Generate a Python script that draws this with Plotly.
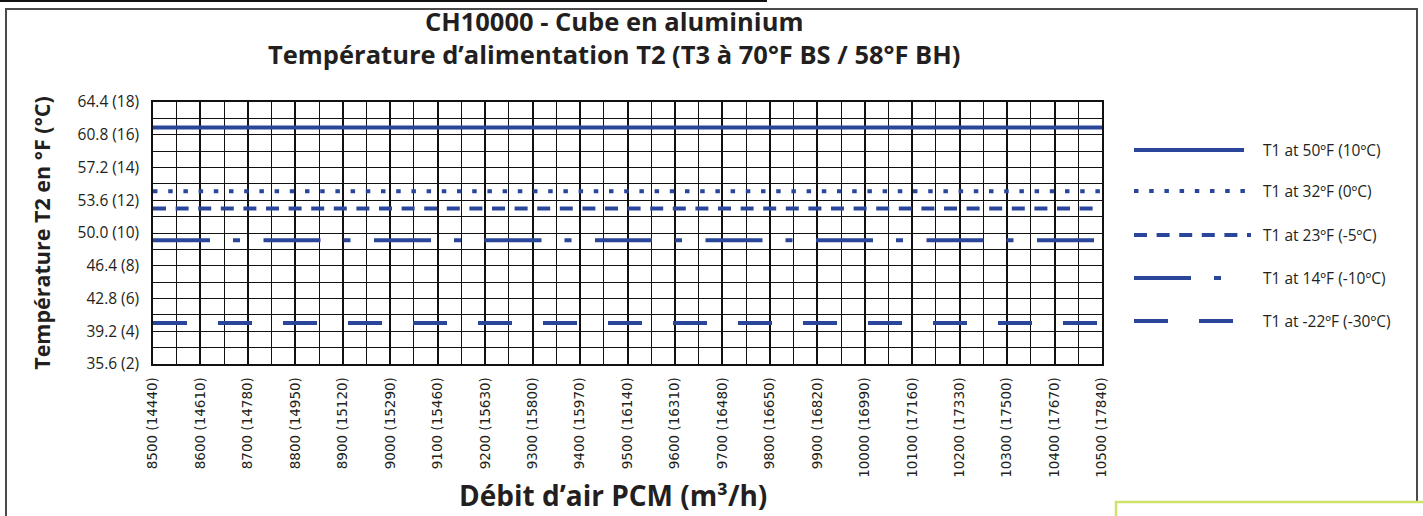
import plotly.graph_objects as go

# ---------------- data ----------------
airflow_cfm = [8500, 8600, 8700, 8800, 8900, 9000, 9100, 9200, 9300, 9400, 9500,
               9600, 9700, 9800, 9900, 10000, 10100, 10200, 10300, 10400, 10500]
airflow_m3h = [14440, 14610, 14780, 14950, 15120, 15290, 15460, 15630, 15800, 15970, 16140,
               16310, 16480, 16650, 16820, 16990, 17160, 17330, 17500, 17670, 17840]
x_tick_labels = [f"{c} ({m})" for c, m in zip(airflow_cfm, airflow_m3h)]

y_tick_f = [35.6, 39.2, 42.8, 46.4, 50.0, 53.6, 57.2, 60.8, 64.4]
y_tick_c = [2, 4, 6, 8, 10, 12, 14, 16, 18]
y_tick_labels = [f"{f:.1f} ({c})" for f, c in zip(y_tick_f, y_tick_c)]

series_names = ["T1 at 50ºF (10ºC)", "T1 at 32ºF (0ºC)", "T1 at 23ºF (-5ºC)",
                "T1 at 14ºF (-10ºC)", "T1 at -22ºF (-30ºC)"]
t2_t1_50 = [61.6, 61.6, 61.6, 61.6, 61.6, 61.6, 61.6, 61.6, 61.6, 61.6, 61.6,
            61.6, 61.6, 61.6, 61.6, 61.6, 61.6, 61.6, 61.6, 61.6, 61.6]
t2_t1_32 = [54.6, 54.6, 54.6, 54.6, 54.6, 54.6, 54.6, 54.6, 54.6, 54.6, 54.6,
            54.6, 54.6, 54.6, 54.6, 54.6, 54.6, 54.6, 54.6, 54.6, 54.6]
t2_t1_23 = [52.7, 52.7, 52.7, 52.7, 52.7, 52.7, 52.7, 52.7, 52.7, 52.7, 52.7,
            52.7, 52.7, 52.7, 52.7, 52.7, 52.7, 52.7, 52.7, 52.7, 52.7]
t2_t1_14 = [49.2, 49.2, 49.2, 49.2, 49.2, 49.2, 49.2, 49.2, 49.2, 49.2, 49.2,
            49.2, 49.2, 49.2, 49.2, 49.2, 49.2, 49.2, 49.2, 49.2, 49.2]
t2_t1_m22 = [40.1, 40.1, 40.1, 40.1, 40.1, 40.1, 40.1, 40.1, 40.1, 40.1, 40.1,
             40.1, 40.1, 40.1, 40.1, 40.1, 40.1, 40.1, 40.1, 40.1, 40.1]
series_values = [t2_t1_50, t2_t1_32, t2_t1_23, t2_t1_14, t2_t1_m22]

title_text = ("CH10000 - Cube en aluminium<br>"
              "Température d’alimentation T2 (T3 à 70°F BS / 58°F BH)")
x_title = "Débit d’air PCM (m³/h)"
y_title = "Température T2 en °F (°C)"

# ---------------- style ----------------
BLUE = "#2a469b"
TXT = "#231f20"
GRID = "#111111"
dashes = ["solid", "4.5px,10.7px", "13px,9.6px", "57px,23px,7px,23.5px", "34px,31px"]
legend_len = [110, 113, 117, 89, 103]
legend_y = [150, 191, 235, 278, 321]

W, H = 1423, 516
L, R, T, B = 153, 1102, 102, 364


def px(x):
    return (x - L) / (R - L)


def py(y):
    return (B - y) / (B - T)


fig = go.Figure()
for name, vals, d in zip(series_names, series_values, dashes):
    fig.add_trace(go.Scatter(x=airflow_cfm, y=vals, mode="lines", name=name,
                             line=dict(color=BLUE, width=4, dash=d),
                             showlegend=False, hoverinfo="x+y+name"))

shapes = []
annotations = []
# page frame
shapes.append(dict(type="line", xref="paper", yref="paper", x0=px(0), x1=px(767),
                   y0=py(1), y1=py(1), line=dict(color="#111", width=2)))
shapes.append(dict(type="rect", xref="paper", yref="paper", x0=px(6), x1=px(1417),
                   y0=py(9), y1=py(540), line=dict(color="#4a4a4a", width=2)))
shapes.append(dict(type="rect", xref="paper", yref="paper", x0=px(1116), x1=px(1440),
                   y0=py(502), y1=py(540), fillcolor="white",
                   line=dict(color="#cfe36c", width=2.5)))

# title
annotations.append(dict(xref="paper", yref="paper", x=px(614), y=py(37), text=title_text,
                        showarrow=False, xanchor="center", yanchor="middle", align="center",
                        font=dict(family="Open Sans", size=25.5, color=TXT, weight="bold")))
# x-axis title
annotations.append(dict(xref="paper", yref="paper", x=px(613), y=py(495), text=x_title,
                        showarrow=False, xanchor="center", yanchor="middle",
                        font=dict(family="Open Sans", size=28, color=TXT, weight="bold")))

# legend
for name, d, ly, ll in zip(series_names, dashes, legend_y, legend_len):
    shapes.append(dict(type="line", xref="paper", yref="paper",
                       x0=px(1134), x1=px(1134 + ll), y0=py(ly), y1=py(ly),
                       line=dict(color=BLUE, width=4, dash=d)))
    annotations.append(dict(xref="paper", yref="paper", x=px(1261), y=py(ly),
                            text=name, showarrow=False, xanchor="left", yanchor="middle",
                            font=dict(family="Open Sans", size=15.5, color=TXT)))

fig.update_layout(
    width=W, height=H, autosize=False,
    margin=dict(l=L, r=W - R, t=T, b=H - B),
    paper_bgcolor="white", plot_bgcolor="white",
    shapes=shapes, annotations=annotations,
    showlegend=False,
)

fig.update_xaxes(
    range=[airflow_cfm[0], airflow_cfm[-1]],
    tickmode="array", tickvals=airflow_cfm, ticktext=x_tick_labels, tickangle=-90,
    tickfont=dict(family="DejaVu Sans", size=13.5, color=TXT),
    ticklabelstandoff=6,
    showgrid=True, gridcolor=GRID, gridwidth=1.5,
    minor=dict(tickmode="linear", tick0=airflow_cfm[0], dtick=50, showgrid=True,
               gridcolor=GRID, gridwidth=1.3),
    showline=True, linecolor=GRID, linewidth=1.5, mirror=True, zeroline=False,
)
fig.update_yaxes(
    range=[y_tick_f[0], y_tick_f[-1]],
    tickmode="array", tickvals=y_tick_f, ticktext=y_tick_labels,
    tickfont=dict(family="Open Sans", size=15.5, color=TXT),
    ticklabelstandoff=9,
    showgrid=True, gridcolor=GRID, gridwidth=1.4,
    minor=dict(tickmode="linear", tick0=y_tick_f[0], dtick=1.8, showgrid=True,
               gridcolor=GRID, gridwidth=1.3),
    showline=True, linecolor=GRID, linewidth=1.5, mirror=True, zeroline=False,
    title=dict(text=y_title, standoff=21,
               font=dict(family="Open Sans", size=21.5, color=TXT, weight="bold")),
)

fig.write_html("out.html", config={"displayModeBar": False},
               post_script="document.body.style.margin='0';document.body.style.overflow='hidden';")
